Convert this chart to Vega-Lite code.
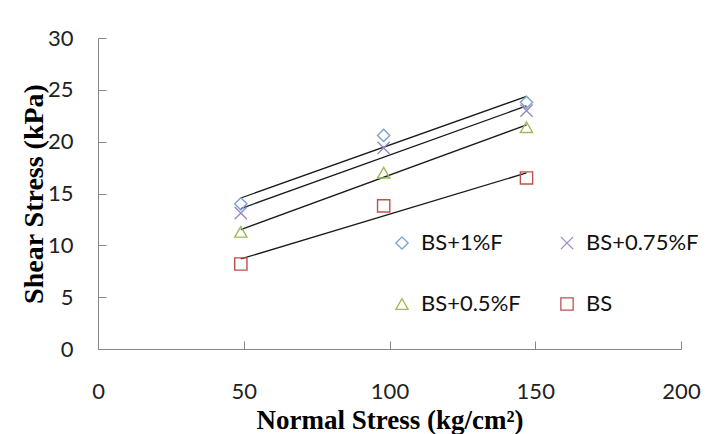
{
  "$schema": "https://vega.github.io/schema/vega-lite/v6.json",
  "width": 583,
  "height": 311,
  "autosize": {"type": "none"},
  "padding": {"left": 98, "top": 38, "right": 31, "bottom": 85},
  "background": "white",
  "config": {"view": {"stroke": null}},
  "data": {
    "values": [
      {"series": "BS+1%F", "normal": 49, "stress": 14.0},
      {"series": "BS+1%F", "normal": 98, "stress": 20.6},
      {"series": "BS+1%F", "normal": 147, "stress": 23.8},
      {"series": "BS+0.75%F", "normal": 49, "stress": 13.1},
      {"series": "BS+0.75%F", "normal": 98, "stress": 19.4},
      {"series": "BS+0.75%F", "normal": 147, "stress": 23.0},
      {"series": "BS+0.5%F", "normal": 49, "stress": 11.3},
      {"series": "BS+0.5%F", "normal": 98, "stress": 17.0},
      {"series": "BS+0.5%F", "normal": 147, "stress": 21.4},
      {"series": "BS", "normal": 49, "stress": 8.2},
      {"series": "BS", "normal": 98, "stress": 13.8},
      {"series": "BS", "normal": 147, "stress": 16.5}
    ]
  },
  "encoding": {
    "x": {
      "field": "normal",
      "type": "quantitative",
      "scale": {"domain": [0, 200], "nice": false, "zero": false},
      "axis": {
        "values": [0, 50, 100, 150, 200],
        "title": "Normal Stress (kg/cm²)",
        "grid": false,
        "tickSize": -8,
        "labelPadding": 40,
        "labelFont": "Lato",
        "labelFontSize": 22,
        "labelColor": "#222222",
        "domainColor": "#868686",
        "tickColor": "#868686",
        "labelFlush": false,
        "titleFont": "Liberation Serif",
        "titleFontSize": 27,
        "titleFontWeight": "bold",
        "titleColor": "#000000",
        "titleX": 291.5,
        "titleY": 79,
        "titleAlign": "center",
        "titleBaseline": "alphabetic"
      }
    },
    "y": {
      "field": "stress",
      "type": "quantitative",
      "scale": {"domain": [0, 30], "nice": false},
      "axis": {
        "values": [0, 5, 10, 15, 20, 25, 30],
        "title": "Shear  Stress (kPa)",
        "grid": false,
        "tickSize": -8,
        "labelPadding": 33,
        "labelFont": "Lato",
        "labelFontSize": 22,
        "labelColor": "#222222",
        "domainColor": "#868686",
        "tickColor": "#868686",
        "labelFlush": false,
        "titleFont": "Liberation Serif",
        "titleFontSize": 28,
        "titleFontWeight": "bold",
        "titleColor": "#000000",
        "titleX": -56,
        "titleY": 155.5,
        "titleAngle": -90,
        "titleAlign": "center",
        "titleBaseline": "alphabetic"
      }
    }
  },
  "layer": [
    {
      "transform": [{"regression": "stress", "on": "normal", "groupby": ["series"]}],
      "mark": {"type": "line", "color": "#1a1a1a", "strokeWidth": 1.3},
      "encoding": {"detail": {"field": "series"}}
    },
    {
      "mark": {"type": "point", "filled": false, "strokeWidth": 1.4, "size": 150, "opacity": 1},
      "encoding": {
        "color": {
          "field": "series",
          "type": "nominal",
          "scale": {
            "domain": ["BS+1%F", "BS+0.5%F", "BS+0.75%F", "BS"],
            "range": ["#7a9fd4", "#9bbb59", "#9b87c2", "#c0504d"]
          },
          "legend": {
            "orient": "none",
            "legendX": 293,
            "legendY": 194,
            "title": null,
            "columns": 2,
            "padding": 0,
            "labelFont": "Lato",
            "labelFontSize": 22,
            "labelColor": "#111111",
            "labelOffset": 8,
            "symbolSize": 150,
            "symbolStrokeWidth": 1.3,
            "rowPadding": 39,
            "columnPadding": 35
          }
        },
        "shape": {
          "field": "series",
          "type": "nominal",
          "scale": {
            "domain": ["BS+1%F", "BS+0.5%F", "BS+0.75%F", "BS"],
            "range": ["diamond", "triangle-up", "M-1,-1L1,1M-1,1L1,-1", "square"]
          },
          "legend": {
            "orient": "none",
            "legendX": 293,
            "legendY": 194,
            "title": null,
            "columns": 2,
            "padding": 0,
            "labelFont": "Lato",
            "labelFontSize": 22,
            "labelColor": "#111111",
            "labelOffset": 8,
            "symbolSize": 150,
            "symbolStrokeWidth": 1.3,
            "rowPadding": 39,
            "columnPadding": 35
          }
        }
      }
    }
  ]
}
